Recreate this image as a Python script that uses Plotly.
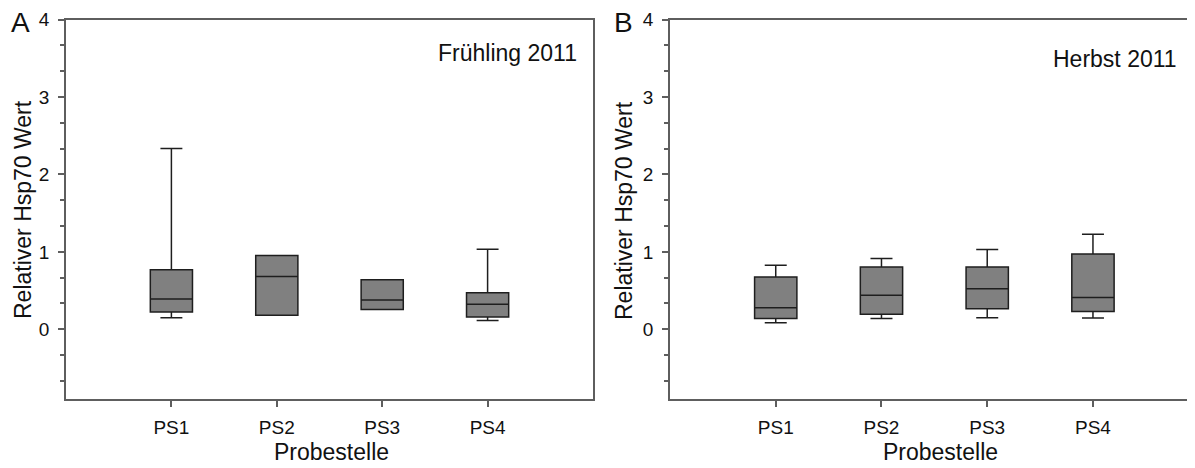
import plotly.graph_objects as go

categories = ["PS1", "PS2", "PS3", "PS4"]

# Panel A: Frühling 2011
a_lower = [0.15, 0.18, 0.254, 0.112]
a_q1 = [0.222, 0.18, 0.254, 0.159]
a_median = [0.39, 0.682, 0.378, 0.322]
a_q3 = [0.768, 0.954, 0.639, 0.473]
a_upper = [2.335, 0.954, 0.639, 1.035]

# Panel B: Herbst 2011
b_lower = [0.086, 0.14, 0.15, 0.146]
b_q1 = [0.138, 0.193, 0.266, 0.23]
b_median = [0.278, 0.438, 0.522, 0.412]
b_q3 = [0.674, 0.803, 0.803, 0.973]
b_upper = [0.828, 0.915, 1.03, 1.226]

FONT = "Liberation Sans, Arial, sans-serif"
OFF = 8  # page body margin
W, H = 1195 - OFF, 468 - OFF
AXC = "#5e5e5e"


def fx(x):
    return (x - OFF) / W


def fy(y):
    return 1 - (y - OFF) / H


fig = go.Figure()
box_style = dict(fillcolor="#808080", line=dict(color="#1e1e1e", width=1.5),
                 width=0.4, whiskerwidth=0.52, showlegend=False, boxpoints=False)
fig.add_trace(go.Box(x=categories, q1=a_q1, median=a_median, q3=a_q3,
                     lowerfence=a_lower, upperfence=a_upper,
                     xaxis="x", yaxis="y", **box_style))
fig.add_trace(go.Box(x=categories, q1=b_q1, median=b_median, q3=b_q3,
                     lowerfence=b_lower, upperfence=b_upper,
                     xaxis="x2", yaxis="y2", **box_style))

ydom = [fy(399), fy(19.5)]
common_x = dict(type="category", categoryorder="array", categoryarray=categories,
                showline=True, linecolor=AXC, linewidth=1.5, ticks="outside",
                ticklen=6, tickcolor=AXC, tickwidth=1.5, showgrid=False, zeroline=False,
                automargin=False, ticklabelstandoff=4,
                tickfont=dict(family=FONT, size=19, color="#111"))
common_y = dict(range=[-0.9, 4], tick0=0, dtick=1, showline=True, linecolor=AXC,
                linewidth=1.5, ticks="outside", ticklen=6, tickcolor=AXC, tickwidth=1.5,
                showgrid=False, zeroline=False, domain=ydom, automargin=False,
                ticklabelstandoff=5,
                tickfont=dict(family=FONT, size=19, color="#111"),
                minor=dict(dtick=1/3, tick0=0, ticks="outside", ticklen=4,
                           tickcolor=AXC, tickwidth=1.5, showgrid=False))

fig.update_layout(
    template="none",
    width=W, height=H,
    margin=dict(l=0, r=0, t=0, b=0, pad=0),
    paper_bgcolor="white", plot_bgcolor="white",
    font=dict(family=FONT, color="#111"),
    xaxis=dict(domain=[fx(66), fx(593)], range=[-1, 4], mirror=True, anchor="y", **common_x),
    yaxis=dict(anchor="x", mirror=True, **common_y),
    xaxis2=dict(domain=[fx(670), 1.0], range=[-1, 3.965], mirror=True, anchor="y2", **common_x),
    yaxis2=dict(anchor="x2", mirror=False, **common_y),
)

ann = []


def add(text, x, y, size, xanchor="center", yanchor="middle", angle=0):
    ann.append(dict(text=text, x=fx(x), y=fy(y), xref="paper", yref="paper",
                    xanchor=xanchor, yanchor=yanchor, showarrow=False, textangle=angle,
                    font=dict(family=FONT, size=size, color="#111")))


add("A", 9, 22, 28, xanchor="left")
add("B", 612, 22, 28, xanchor="left")
add("Frühling 2011", 579, 53, 23, xanchor="right")
add("Herbst 2011", 1179, 59, 23, xanchor="right")
add("Probestelle", 331, 452, 23)
add("Probestelle", 940, 452, 23)
add("Relativer Hsp70 Wert", 23, 210, 23, angle=-90)
add("Relativer Hsp70 Wert", 624, 210, 23, angle=-90)
fig.update_layout(annotations=ann)

fig.write_html("out.html")
